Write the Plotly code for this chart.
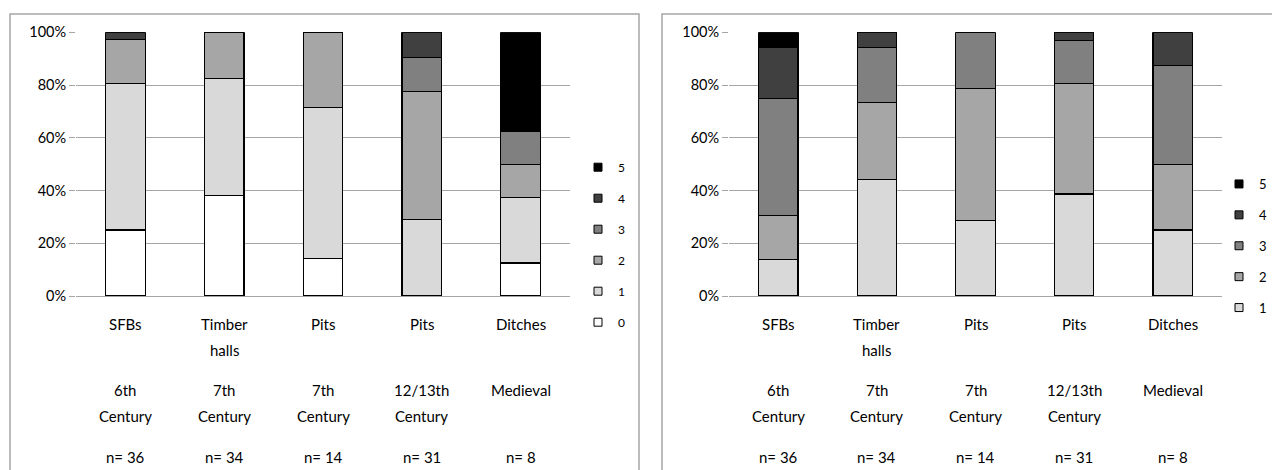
import plotly.graph_objects as go

# ---------------- data ----------------
features = ["SFBs", "Timber halls", "Pits", "Pits", "Ditches"]
periods = ["6th Century", "7th Century", "7th Century", "12/13th Century", "Medieval"]
n_values = [36, 34, 14, 31, 8]

# left chart: counts per score (0..5)
left_scores = ["0", "1", "2", "3", "4", "5"]
left_counts = {
    "0": [9, 13, 2, 0, 1],
    "1": [20, 15, 8, 9, 2],
    "2": [6, 6, 4, 15, 1],
    "3": [0, 0, 0, 4, 1],
    "4": [1, 0, 0, 3, 0],
    "5": [0, 0, 0, 0, 3],
}

# right chart: counts per score (1..5)
right_scores = ["1", "2", "3", "4", "5"]
right_counts = {
    "1": [5, 15, 4, 12, 2],
    "2": [6, 10, 7, 13, 2],
    "3": [16, 7, 3, 5, 3],
    "4": [7, 2, 0, 1, 1],
    "5": [2, 0, 0, 0, 0],
}

score_colors = {
    "0": "#ffffff",
    "1": "#d9d9d9",
    "2": "#a6a6a6",
    "3": "#808080",
    "4": "#404040",
    "5": "#000000",
}

# ---------------- figure ----------------
OFF = 8  # page body margin
W, H = 1280 - OFF, 470 - OFF
FONT = "Lato"
xpos = list(range(len(features)))

fig = go.Figure()


def add_panel(counts, scores, xa, ya, legend_name):
    for s in scores:
        fig.add_trace(go.Bar(
            x=xpos, y=counts[s], name=s, xaxis=xa, yaxis=ya,
            width=0.4, showlegend=False,
            marker=dict(color=score_colors[s], line=dict(color="#000000", width=1.2)),
            hoverinfo="skip",
        ))
    # legend entries (top-down 5 .. lowest)
    for s in reversed(scores):
        fig.add_trace(go.Scatter(
            x=[None], y=[None], mode="markers", name=s, xaxis=xa, yaxis=ya,
            legend=legend_name, legendgroup=legend_name + s, showlegend=True,
            marker=dict(symbol="square", size=8, color=score_colors[s],
                        line=dict(color="#000000", width=1)),
        ))


add_panel(left_counts, left_scores, "x", "y", "legend")
add_panel(right_counts, right_scores, "x2", "y2", "legend2")


def px_x(p):
    return (p - OFF) / W


def px_y(p):
    return 1 - (p - OFF) / H


ydom = [px_y(296), px_y(32.3)]
axis_y = dict(range=[0, 100], dtick=20, ticksuffix="%", showgrid=True,
              gridcolor="#a6a6a6", gridwidth=1, ticks="outside", ticklen=6,
              tickcolor="#a6a6a6", showline=False, zeroline=False,
              tickfont=dict(family=FONT, size=14.5, color="#000000"), fixedrange=True)
axis_x = dict(range=[-0.5, 4.5], showticklabels=False, showgrid=False, zeroline=False,
              showline=True, linecolor="#a6a6a6", linewidth=1, ticks="", fixedrange=True)

fig.update_layout(
    width=W, height=H,
    margin=dict(l=0, r=0, t=0, b=0, autoexpand=False),
    paper_bgcolor="#ffffff", plot_bgcolor="#ffffff",
    barmode="stack", barnorm="percent",
    xaxis=dict(axis_x, domain=[px_x(76), px_x(570)], anchor="y"),
    yaxis=dict(axis_y, domain=ydom, anchor="x"),
    xaxis2=dict(axis_x, domain=[px_x(729), px_x(1222)], anchor="y2"),
    yaxis2=dict(axis_y, domain=ydom, anchor="x2"),
    legend=dict(x=px_x(578), xanchor="left", y=px_y(152.7), yanchor="top",
                bgcolor="rgba(0,0,0,0)", tracegroupgap=12,
                font=dict(family=FONT, size=12, color="#000000")),
    legend2=dict(x=px_x(1219), xanchor="left", y=px_y(169), yanchor="top",
                 bgcolor="rgba(0,0,0,0)", tracegroupgap=11,
                 font=dict(family=FONT, size=13, color="#000000")),
    showlegend=True,
)

# panel borders
for x0, x1 in [(10, 639), (662, 1300)]:
    fig.add_shape(type="rect", xref="paper", yref="paper",
                  x0=px_x(x0), x1=px_x(x1), y0=px_y(14), y1=px_y(490),
                  line=dict(color="#a6a6a6", width=1.5), fillcolor="rgba(0,0,0,0)",
                  layer="below")

# multi-level category labels
row_px = [323.5, 350, 390, 416, 457]
for xr in ["x", "x2"]:
    for i in xpos:
        lines = []
        for k, w in enumerate(features[i].split(" ")):
            lines.append((k, w))
        for k, w in enumerate(periods[i].split(" ")):
            lines.append((2 + k, w))
        lines.append((4, f"n= {n_values[i]}"))
        for r, txt in lines:
            fig.add_annotation(x=i, y=px_y(row_px[r]), xref=xr, yref="paper",
                               text=txt, showarrow=False, xanchor="center",
                               yanchor="middle",
                               font=dict(family=FONT, size=15, color="#000000"))

fig.write_html("out.html")
